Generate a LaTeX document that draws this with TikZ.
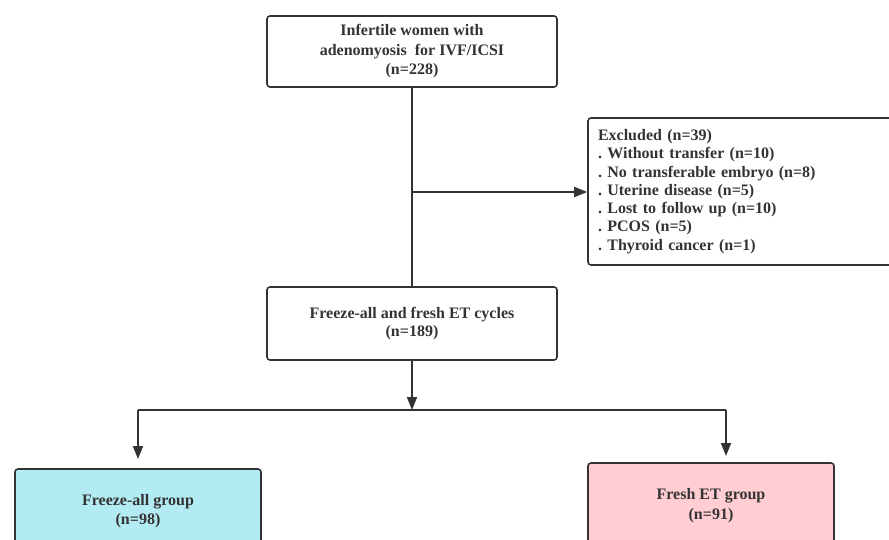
\documentclass[tikz,border=0pt]{standalone}
\usepackage{fontspec}
\setmainfont{Liberation Serif}
\usetikzlibrary{arrows.meta}
\frenchspacing

\definecolor{boxline}{HTML}{333333}
\definecolor{freezefill}{HTML}{B2EBF2}
\definecolor{freshfill}{HTML}{FFCDD2}

\tikzset{
    stagebox/.style={draw=boxline, line width=1.6pt, rounded corners=3pt, align=center,
        inner sep=0pt, text=boxline, font=\fontsize{16}{19.5}\selectfont\bfseries},
    link/.style={draw=boxline, line width=1.8pt},
}

\begin{document}
\begin{tikzpicture}[x=1pt, y=-1pt, >={Triangle[length=13pt,width=10pt]}]
        \useasboundingbox (0,0) rectangle (889,540);

        \node [stagebox, minimum width=290pt, minimum height=71pt] (women) at (412,51.5)
            {Infertile women with\\adenomyosis\ \ for IVF/ICSI\\(n=228)};
        \node [stagebox, align=left, text width=284pt, inner xsep=10pt, minimum height=147pt,
            font=\fontsize{16}{18.3}\selectfont\bfseries] (excluded) at (740,191.5)
            {Excluded (n=39)\\. Without transfer (n=10)\\. No transferable embryo (n=8)\\
             . Uterine disease (n=5)\\. Lost to follow up (n=10)\\. PCOS (n=5)\\. Thyroid cancer (n=1)};
        \node [stagebox, minimum width=290pt, minimum height=73pt, font=\fontsize{16}{18.5}\selectfont\bfseries]
            (cycles) at (412,323.5) {Freeze-all and fresh ET cycles\\(n=189)};
        \node [stagebox, fill=freezefill, minimum width=246pt, minimum height=84pt] (freeze) at (138,511)
            {Freeze-all group\\(n=98)};
        \node [stagebox, fill=freshfill, minimum width=246pt, minimum height=85pt] (fresh) at (711,505.5)
            {Fresh ET group\\(n=91)};

        \coordinate (split) at (412,192);
        \coordinate (fork) at (412,410);
        \coordinate (forkL) at (138,410);
        \coordinate (forkR) at (726,410);
        \coordinate (tipL) at (138,459);
        \coordinate (tipR) at (726,456);

        \draw [link] (women) -- (cycles);
        \draw [link, ->] (split) -- (split -| excluded.west);
        \draw [link, ->] (cycles) -- (fork);
        \draw [link] (forkL) -- (forkR);
        \draw [link, ->] (forkL) -- (tipL);
        \draw [link, ->] (forkR) -- (tipR);
    \end{tikzpicture}
\end{document}
